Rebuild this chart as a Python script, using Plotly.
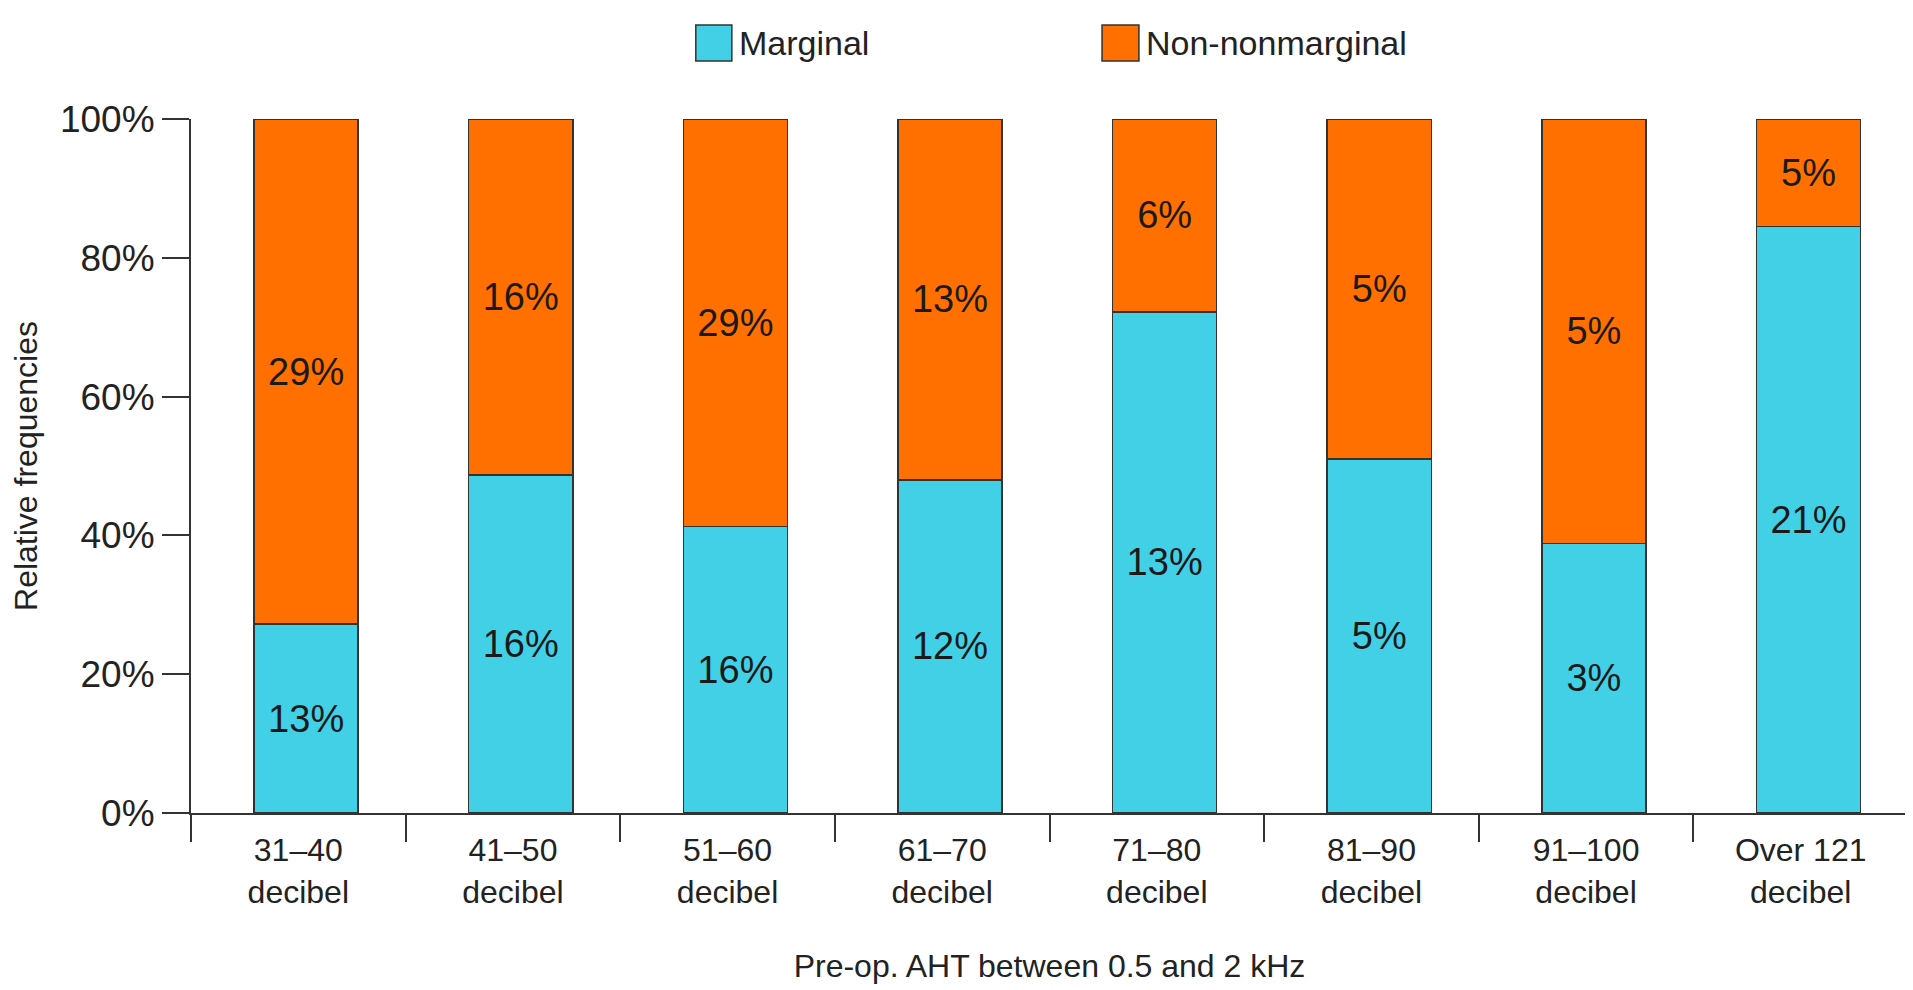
import plotly.graph_objects as go

categories = ["31–40<br>decibel", "41–50<br>decibel", "51–60<br>decibel", "61–70<br>decibel",
              "71–80<br>decibel", "81–90<br>decibel", "91–100<br>decibel", "Over 121<br>decibel"]
marginal_share = [27.2, 48.7, 41.3, 48.0, 72.2, 51.0, 38.8, 84.5]
nonmarginal_share = [72.8, 51.3, 58.7, 52.0, 27.8, 49.0, 61.2, 15.5]
marginal_labels = ["13%", "16%", "16%", "12%", "13%", "5%", "3%", "21%"]
nonmarginal_labels = ["29%", "16%", "29%", "13%", "6%", "5%", "5%", "5%"]
y_ticks = [0, 20, 40, 60, 80, 100]
y_ticktext = ["0%", "20%", "40%", "60%", "80%", "100%"]

CYAN = "#42D0E7"
ORANGE = "#FF7000"
EDGE = "#333333"
FONT = "Liberation Sans, Arial, Helvetica, sans-serif"

fig = go.Figure()
fig.add_trace(go.Bar(
    x=categories, y=marginal_share, name="Marginal",
    marker=dict(color=CYAN, line=dict(color=EDGE, width=1.5)),
    text=marginal_labels, textposition="inside", insidetextanchor="middle",
    textangle=0, textfont=dict(size=38, color="#1a1a1a", family=FONT),
    width=0.485, offset=-0.206, hoverinfo="skip",
))
fig.add_trace(go.Bar(
    x=categories, y=nonmarginal_share, name="Non-nonmarginal",
    marker=dict(color=ORANGE, line=dict(color=EDGE, width=1.5)),
    text=nonmarginal_labels, textposition="inside", insidetextanchor="middle",
    textangle=0, textfont=dict(size=38, color="#1a1a1a", family=FONT),
    width=0.485, offset=-0.206, hoverinfo="skip",
))

# custom legend (large boxes)
legend_items = [("Marginal", CYAN, 0.294, 0.315), ("Non-nonmarginal", ORANGE, 0.5306, 0.5521)]
for name, col, x0, x1 in legend_items:
    fig.add_shape(type="rect", xref="paper", yref="paper", x0=x0, x1=x1, y0=1.0836, y1=1.1354,
                  fillcolor=col, line=dict(color=EDGE, width=1.5))
    fig.add_annotation(xref="paper", yref="paper", x=x1 + 0.003, y=1.1095, text=name,
                       showarrow=False, xanchor="left", yanchor="middle",
                       font=dict(size=34, color="#222222", family=FONT))

fig.update_layout(
    width=1913, height=990,
    barmode="stack", showlegend=False,
    plot_bgcolor="white", paper_bgcolor="white",
    margin=dict(l=183, r=13, t=111, b=185),
    font=dict(family=FONT, size=32, color="#222222"),
)
fig.update_xaxes(
    type="category", range=[-0.5, 7.5], tickson="boundaries",
    showline=True, linecolor=EDGE, linewidth=2,
    ticks="outside", ticklen=27, tickwidth=2, tickcolor=EDGE,
    ticklabelstandoff=8,
    showgrid=False, zeroline=False,
    tickfont=dict(size=32, family=FONT, color="#222222"),
    title=dict(text="Pre-op. AHT between 0.5 and 2 kHz", standoff=46,
               font=dict(size=32, family=FONT, color="#222222")),
    automargin=False,
)
fig.update_yaxes(
    range=[0, 100], tickmode="array", tickvals=y_ticks, ticktext=y_ticktext,
    showline=True, linecolor=EDGE, linewidth=2,
    ticks="outside", ticklen=27, tickwidth=2, tickcolor=EDGE,
    showgrid=False, zeroline=False,
    tickfont=dict(size=37, family=FONT, color="#222222"),
    title=dict(text="Relative frequencies", standoff=14,
               font=dict(size=32, family=FONT, color="#222222")),
    automargin=False,
)

fig.write_html("out.html")
